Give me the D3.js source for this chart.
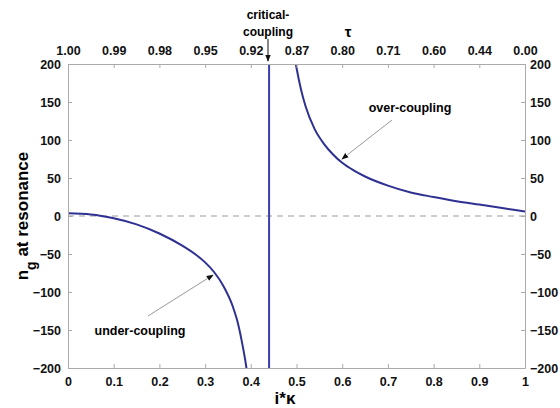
<!DOCTYPE html>
<html><head><meta charset="utf-8">
<script src="https://cdn.jsdelivr.net/npm/d3@7"></script>
<style>
body{margin:0;background:#fff;}
svg{display:block;}
text{font-family:"Liberation Sans",Arial,sans-serif;}
</style></head>
<body><svg id="c" width="560" height="408"></svg>
<script>
// ---- data ----
const xTicks = [0,0.1,0.2,0.3,0.4,0.5,0.6,0.7,0.8,0.9,1];
const xTickLabels = ["0","0.1","0.2","0.3","0.4","0.5","0.6","0.7","0.8","0.9","1"];
const tauLabels = ["1.00","0.99","0.98","0.95","0.92","0.87","0.80","0.71","0.60","0.44","0.00"];
const yTicks = [-200,-150,-100,-50,0,50,100,150,200];
// under-coupling branch (continues off-chart toward the pole)
const underX = [0.0,0.05,0.1,0.15,0.2,0.25,0.28,0.3,0.32,0.34,0.36,0.37,0.38,0.39,0.40,0.41];
const underY = [3.5,2,-3,-11,-23,-39,-51,-61,-74,-92,-118,-137,-164,-198,-245,-315];
// critical coupling pole (vertical jump)
const poleX = [0.44];
// over-coupling branch (starting off-chart)
const overX = [0.47,0.48,0.49,0.5,0.51,0.52,0.54,0.56,0.58,0.6,0.625,0.65,0.7,0.75,0.8,0.85,0.9,0.95,1.0];
const overY = [360,285,232,195,166,144,114,95,81,70,60,52,40,31,25,19.5,15,10.5,6];

const svg = d3.select("#c");
const L=68,R=525,T=64,B=368;
const x = d3.scaleLinear().domain([0,1]).range([L,R]);
const y = d3.scaleLinear().domain([-200,200]).range([B,T]);
const font = "Liberation Sans, Arial, sans-serif";

const defs = svg.append("defs");
defs.append("clipPath").attr("id","clip")
  .append("rect").attr("x",L).attr("y",T).attr("width",R-L).attr("height",B-T);
const mk = defs.append("marker").attr("id","ah").attr("viewBox","0 0 10 10")
  .attr("refX",9).attr("refY",5).attr("markerWidth",7).attr("markerHeight",7).attr("orient","auto-start-reverse");
mk.append("path").attr("d","M0,1 L10,5 L0,9 Z").attr("fill","#111");

// zero dashed line
svg.append("line").attr("x1",x(0)).attr("x2",x(1)).attr("y1",y(0)).attr("y2",y(0))
  .attr("stroke","#999").attr("stroke-width",1.2).attr("stroke-dasharray","6,5");

// curve
const lineGen = d3.line().x(d=>x(d[0])).y(d=>y(d[1])).curve(d3.curveMonotoneX);
const cg = svg.append("g").attr("clip-path","url(#clip)");
const stroke = "#2e3192";
cg.append("path").datum(underX.map((v,i)=>[v,underY[i]])).attr("d",lineGen)
  .attr("fill","none").attr("stroke",stroke).attr("stroke-width",2);
cg.selectAll(".pole").data(poleX).enter().append("line")
  .attr("x1",d=>x(d)).attr("x2",d=>x(d)).attr("y1",y(-200)).attr("y2",y(200))
  .attr("stroke","#3a3db0").attr("stroke-width",2);
cg.append("path").datum(overX.map((v,i)=>[v,overY[i]])).attr("d",lineGen)
  .attr("fill","none").attr("stroke",stroke).attr("stroke-width",2);

// axes
function styleAxis(g){
  g.select(".domain").attr("stroke","#aaa");
  g.selectAll(".tick line").attr("stroke","#aaa");
  g.selectAll(".tick text").attr("font-family",font).attr("font-size",12.5).attr("font-weight","bold").attr("fill","#111");
}
const fmt = d=>xTickLabels[xTicks.indexOf(d)];
svg.append("g").attr("transform",`translate(0,${B})`)
  .call(d3.axisBottom(x).tickValues(xTicks).tickFormat(fmt).tickSizeInner(-4).tickSizeOuter(0).tickPadding(9))
  .call(styleAxis);
svg.append("g").attr("transform",`translate(0,${T})`)
  .call(d3.axisTop(x).tickValues(xTicks).tickFormat(d=>tauLabels[xTicks.indexOf(d)]).tickSizeInner(-4).tickSizeOuter(0).tickPadding(9))
  .call(styleAxis);
svg.append("g").attr("transform",`translate(${L},0)`)
  .call(d3.axisLeft(y).tickValues(yTicks).tickFormat(d3.format("d")).tickSizeInner(-4).tickSizeOuter(0).tickPadding(7))
  .call(styleAxis);
svg.append("g").attr("transform",`translate(${R},0)`)
  .call(d3.axisRight(y).tickValues(yTicks).tickFormat(d3.format("d")).tickSizeInner(-4).tickSizeOuter(0).tickPadding(5))
  .call(styleAxis);

// labels
svg.append("text").attr("x",285).attr("y",404).attr("text-anchor","middle")
  .attr("font-family",font).attr("font-size",17).attr("font-weight","bold").text("i*κ");
const yl = svg.append("text").attr("transform","translate(28,216) rotate(-90)").attr("text-anchor","middle")
  .attr("font-family",font).attr("font-size",17).attr("font-weight","bold");
yl.append("tspan").text("n");
yl.append("tspan").attr("dy",8).attr("font-size",14).text("g");
yl.append("tspan").attr("dy",-8).text(" at resonance");

svg.append("text").attr("x",348).attr("y",37).attr("text-anchor","middle")
  .attr("font-family",font).attr("font-size",15).attr("font-weight","bold").text("τ");
svg.append("text").attr("x",268).attr("y",19).attr("text-anchor","middle")
  .attr("font-family",font).attr("font-size",12).attr("font-weight","bold").text("critical-");
svg.append("text").attr("x",268).attr("y",36).attr("text-anchor","middle")
  .attr("font-family",font).attr("font-size",12).attr("font-weight","bold").text("coupling");
svg.append("line").attr("x1",268).attr("y1",39).attr("x2",268).attr("y2",61)
  .attr("stroke","#111").attr("stroke-width",1).attr("marker-end","url(#ah)");

svg.append("text").attr("x",140).attr("y",335).attr("text-anchor","middle")
  .attr("font-family",font).attr("font-size",12.5).attr("font-weight","bold").text("under-coupling");
svg.append("line").attr("x1",148).attr("y1",316).attr("x2",213).attr("y2",275)
  .attr("stroke","#999").attr("stroke-width",1).attr("marker-end","url(#ah)");
svg.append("text").attr("x",410).attr("y",112).attr("text-anchor","middle")
  .attr("font-family",font).attr("font-size",12.5).attr("font-weight","bold").text("over-coupling");
svg.append("line").attr("x1",392).attr("y1",120).attr("x2",342).attr("y2",159)
  .attr("stroke","#999").attr("stroke-width",1).attr("marker-end","url(#ah)");
</script></body></html>
